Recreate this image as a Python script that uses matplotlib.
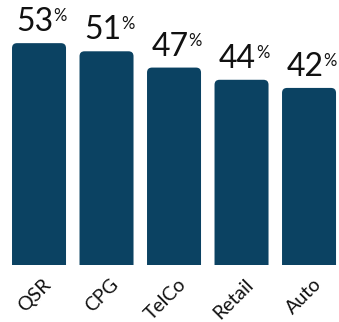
import numpy as np
import matplotlib
matplotlib.use("Agg")
from matplotlib import pyplot as plt
from matplotlib.patches import FancyBboxPatch

categories = ["QSR", "CPG", "TelCo", "Retail", "Auto"]
values = [53, 51, 47, 44, 42]

bar_color = "#0b4262"
text_color = "#111111"
W, H, DPI = 339, 322, 100

fig = plt.figure(figsize=(W / DPI, H / DPI), dpi=DPI)
ax = fig.add_axes([0, 57 / H, 1, 265 / H])
ax.set_xlim(-0.578, 4.444)
ax.set_ylim(-1.5, 63.6)
ax.axis("off")

x = np.arange(len(categories))
bars = ax.bar(x, values, width=0.8, color="none")

# rounded tops: radius ~5 px, converted to data units per axis
px_x = 67.5
px_y = 265 / 65.1
r = 5 / px_x
for rect in bars:
    x0, w, h = rect.get_x(), rect.get_width(), rect.get_height()
    p = FancyBboxPatch((x0, -5), w, h + 5,
                       boxstyle=f"round,pad=0,rounding_size={r}",
                       mutation_aspect=px_x / px_y,
                       fc=bar_color, ec="none", clip_on=True)
    ax.add_patch(p)

for xi, v in zip(x, values):
    t = ax.annotate(str(v), (xi, v), xytext=(-3, 8.5), textcoords="offset points",
                    ha="center", va="baseline", fontsize=23,
                    family="Lato", color=text_color)
    ax.annotate("%", xy=(1, 1), xycoords=t, xytext=(0, -0.6), textcoords="offset points",
                ha="left", va="top", fontsize=12,
                family="Lato", color=text_color)

for xi, c in zip(x, categories):
    ax.annotate(c, (xi, 0), xytext=(2.5, -12), textcoords="offset points",
                ha="right", va="top", rotation=45, rotation_mode="anchor",
                fontsize=14, family="Lato", color=text_color,
                annotation_clip=False)

fig.savefig("out.png", dpi=DPI)
